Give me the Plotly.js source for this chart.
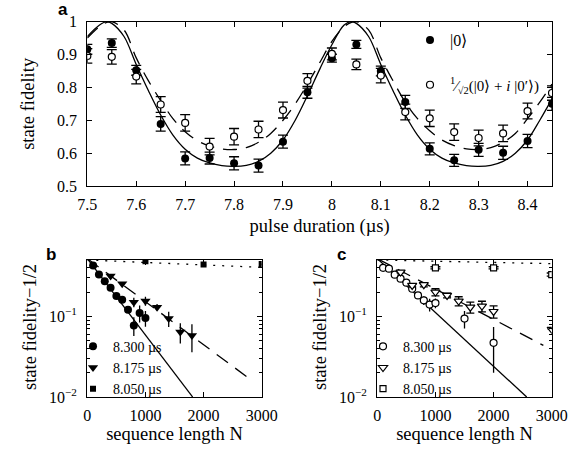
<!DOCTYPE html>
<html>
<head>
<meta charset="utf-8">
<script src="https://cdn.plot.ly/plotly-3.0.1.min.js"></script>
<style>html,body{margin:0;padding:0;background:#fff;}#chart{width:581px;height:471px;}</style>
</head>
<body>
<div id="chart"></div>
<script>
// ---------- Panel a: state fidelity vs pulse duration ----------
const pulse = [7.5,7.55,7.6,7.65,7.7,7.75,7.8,7.85,7.9,7.95,8.0,8.05,8.1,8.15,8.2,8.25,8.3,8.35,8.4,8.45];
const fidZero = [0.916,0.935,0.852,0.689,0.584,0.585,0.569,0.562,0.635,0.785,0.889,0.931,0.850,0.756,0.613,0.578,0.610,0.601,0.637,0.750];
const errZero = [0.015,0.013,0.015,0.022,0.020,0.018,0.020,0.020,0.020,0.018,0.012,0.012,0.015,0.020,0.018,0.018,0.020,0.020,0.020,0.020];
const fidSup = [0.896,0.893,0.833,0.748,0.692,0.620,0.650,0.672,0.731,0.820,0.902,0.870,0.836,0.725,0.706,0.664,0.646,0.660,0.728,0.783];
const errSup = [0.022,0.022,0.022,0.024,0.025,0.025,0.025,0.025,0.024,0.022,0.018,0.016,0.022,0.024,0.025,0.025,0.024,0.025,0.024,0.022];
const fitX = [7.5,7.525,7.54,7.55,7.575,7.6,7.625,7.65,7.675,7.7,7.725,7.75,7.775,7.8,7.825,7.85,7.875,7.9,7.925,7.95,7.975,8.0,8.025,8.04,8.05,8.075,8.1,8.125,8.15,8.175,8.2,8.225,8.25,8.275,8.3,8.325,8.35,8.375,8.4,8.425,8.45];
const fitZero = [0.955,0.99,1.0,0.995,0.955,0.87,0.79,0.716,0.655,0.612,0.585,0.57,0.562,0.56,0.563,0.575,0.6,0.64,0.7,0.775,0.855,0.93,0.99,1.0,0.995,0.955,0.87,0.79,0.716,0.655,0.612,0.585,0.57,0.562,0.56,0.563,0.575,0.6,0.64,0.7,0.765];
const fitSup = [0.95,0.985,0.998,1.0,0.975,0.89,0.82,0.76,0.705,0.665,0.638,0.622,0.613,0.611,0.617,0.633,0.66,0.7,0.75,0.81,0.875,0.94,0.985,0.998,1.0,0.975,0.89,0.82,0.755,0.705,0.668,0.64,0.623,0.613,0.611,0.617,0.633,0.66,0.705,0.755,0.81];

// ---------- Panel b: |0> ----------
const bN300 = [100,200,300,400,500,600,700,800,900,1000];
const bF300 = [0.428,0.331,0.273,0.227,0.179,0.161,0.121,0.0773,0.110,0.0953];
const bE300 = [0.006,0.006,0.006,0.006,0.007,0.008,0.010,0.020,0.026,0.021];
const bN175 = [400,600,800,1000,1200,1400,1600,1800];
const bF175 = [0.316,0.254,0.150,0.155,0.130,0.094,0.064,0.058];
const bE175 = [0.008,0.010,0.020,0.020,0.012,0.020,0.018,0.022];
const bN050 = [1000,2000,3000];
const bF050 = [0.484,0.440,0.445];
const bE050 = [0.005,0.005,0.005];
const bFitN300 = [0,1813], bFit300 = [0.52,0.01];
const bFitN175 = [0,2828], bFit175 = [0.52,0.0161];
const bFitN050 = [0,3000], bFit050 = [0.50,0.405];

// ---------- Panel c: superposition ----------
const cN300 = [100,200,300,400,500,600,700,800,900,1000,1500,2000];
const cF300 = [0.400,0.390,0.329,0.293,0.262,0.220,0.182,0.158,0.140,0.146,0.094,0.047];
const cE300 = [0.008,0.008,0.008,0.008,0.010,0.010,0.015,0.020,0.025,0.020,0.023,0.027];
const cN175 = [400,600,800,1000,1200,1400,1600,1800,2000,3000];
const cF175 = [0.354,0.242,0.247,0.200,0.182,0.155,0.130,0.134,0.115,0.069];
const cE175 = [0.008,0.010,0.015,0.020,0.012,0.020,0.020,0.020,0.020,0.0];
const cN050 = [1000,2000,3000];
const cF050 = [0.400,0.400,0.330];
const cE050 = [0.012,0.012,0.015];
const cFitN300 = [0,2570], cFit300 = [0.52,0.01];
const cFitN175 = [0,2856], cFit175 = [0.52,0.0437];
const cFitN050 = [0,3000], cFit050 = [0.50,0.45];

const legendLabels = ['8.300 µs','8.175 µs','8.050 µs'];
const yTitleBC = 'state fidelity−1/2';

const K = 'black';
const SERIF = 'Liberation Serif';

function fitLine(x, y, xa, ya, dash, shape){
  return {x:x, y:y, xaxis:xa, yaxis:ya, mode:'lines', showlegend:false, hoverinfo:'skip',
    line:{color:K, width:1.3, dash:dash, shape:shape||'linear'}};
}
function pts(x, y, e, xa, ya, sym, size, filled, capw, name, legend){
  return {x:x, y:y, xaxis:xa, yaxis:ya, mode:'markers', name:name, legend:legend,
    showlegend: !!name,
    marker:{symbol:sym, size:size, color: filled ? K : 'white', line:{color:K, width: filled ? 0 : 1.2}},
    error_y:{type:'data', array:e, visible:true, color:K, thickness:1.3, width:capw}};
}

const traces = [
  fitLine(fitX, fitSup, 'x', 'y', '14px,9px', 'spline'),
  fitLine(fitX, fitZero, 'x', 'y', 'solid', 'spline'),
  pts(pulse, fidZero, errZero, 'x', 'y', 'circle', 8, true, 5, '|0⟩', 'legend'),
  pts(pulse, fidSup, errSup, 'x', 'y', 'circle', 7, false, 5, '<sup>1</sup>⁄<sub>√2</sub>(|0⟩ + <i>i</i> |0′⟩)', 'legend2'),

  fitLine(bFitN050, bFit050, 'x2', 'y2', '2px,7px'),
  fitLine(bFitN175, bFit175, 'x2', 'y2', '14px,9px'),
  fitLine(bFitN300, bFit300, 'x2', 'y2', 'solid'),
  pts(bN300, bF300, bE300, 'x2', 'y2', 'circle', 8, true, 0, legendLabels[0], 'legend3'),
  pts(bN175, bF175, bE175, 'x2', 'y2', 'triangle-down', 9, true, 0, legendLabels[1], 'legend3'),
  pts(bN050, bF050, bE050, 'x2', 'y2', 'square', 6, true, 0, legendLabels[2], 'legend3'),

  fitLine(cFitN050, cFit050, 'x3', 'y3', '2px,7px'),
  fitLine(cFitN175, cFit175, 'x3', 'y3', '14px,9px'),
  fitLine(cFitN300, cFit300, 'x3', 'y3', 'solid'),
  pts(cN300, cF300, cE300, 'x3', 'y3', 'circle', 7, false, 0, legendLabels[0], 'legend4'),
  pts(cN175, cF175, cE175, 'x3', 'y3', 'triangle-down', 8, false, 4, legendLabels[1], 'legend4'),
  pts(cN050, cF050, cE050, 'x3', 'y3', 'square', 6, false, 5, legendLabels[2], 'legend4')
];

const axBase = {showline:true, linecolor:K, linewidth:1.2, mirror:'ticks', ticks:'inside', ticklen:5,
  tickcolor:K, tickwidth:1, showgrid:false, zeroline:false, tickfont:{family:SERIF, size:16, color:K}};
const titleFont = {family:SERIF, size:18.5, color:K};
const logMinor = {ticks:'inside', ticklen:3, tickcolor:K, tickmode:'array',
  tickvals:[0.02,0.03,0.04,0.05,0.06,0.07,0.08,0.09,0.2,0.3,0.4], showgrid:false};

const legBase = {bgcolor:'rgba(0,0,0,0)', borderwidth:0, xanchor:'left', yanchor:'middle', itemclick:false};

const layout = {
  width:581, height:471, margin:{l:0,r:0,t:0,b:0},
  paper_bgcolor:'white', plot_bgcolor:'white', showlegend:true,
  font:{family:SERIF, color:K},
  xaxis: Object.assign({}, axBase, {domain:[0.1503,0.9501], anchor:'y', range:[7.5,8.45], tick0:7.5, dtick:0.1,
    ticklabelstandoff:4, title:{text:'pulse duration (µs)', font:titleFont, standoff:6}}),
  yaxis: Object.assign({}, axBase, {domain:[0.6051,0.9539], anchor:'x', range:[0.5,1], tick0:0.5, dtick:0.1,
    ticklabelstandoff:6, title:{text:'state fidelity', font:titleFont, standoff:17}}),
  xaxis2: Object.assign({}, axBase, {domain:[0.1503,0.4504], anchor:'y2', range:[0,3000], dtick:1000,
    ticklabelstandoff:4, title:{text:'sequence length N', font:titleFont, standoff:0}}),
  yaxis2: Object.assign({}, axBase, {domain:[0.157,0.448], anchor:'x2', type:'log', range:[-2,-0.301],
    tickmode:'array', tickvals:[0.01,0.1], ticktext:['10<sup>−2</sup>','10<sup>−1</sup>'], minor:logMinor,
    ticklabelstandoff:6}),
  xaxis3: Object.assign({}, axBase, {domain:[0.6494,0.9496], anchor:'y3', range:[0,3000], dtick:1000,
    ticklabelstandoff:4, title:{text:'sequence length N', font:titleFont, standoff:0}}),
  yaxis3: Object.assign({}, axBase, {domain:[0.157,0.448], anchor:'x3', type:'log', range:[-2,-0.301],
    tickmode:'array', tickvals:[0.01,0.1], ticktext:['10<sup>−2</sup>','10<sup>−1</sup>'], minor:logMinor,
    ticklabelstandoff:6}),
  legend: Object.assign({}, legBase, {x:410/581, y:1-40/471, font:{family:SERIF, size:16, color:K}}),
  legend2: Object.assign({}, legBase, {x:410/581, y:1-85/471, font:{family:SERIF, size:15, color:K}}),
  legend3: Object.assign({}, legBase, {x:73/581, y:1-367.7/471, font:{family:SERIF, size:14, color:K}, tracegroupgap:0}),
  legend4: Object.assign({}, legBase, {x:363/581, y:1-367.7/471, font:{family:SERIF, size:14, color:K}, tracegroupgap:0}),
  annotations:[
    {text:yTitleBC, xref:'paper', yref:'paper', x:30/581, y:1-327/471, textangle:-90, xanchor:'center', yanchor:'middle',
      showarrow:false, font:titleFont},
    {text:yTitleBC, xref:'paper', yref:'paper', x:320/581, y:1-327/471, textangle:-90, xanchor:'center', yanchor:'middle',
      showarrow:false, font:titleFont},
    {text:'<b>a</b>', xref:'paper', yref:'paper', x:63/581, y:1-10/471, xanchor:'center', yanchor:'middle', showarrow:false,
      font:{family:'Liberation Sans', size:17, color:K}},
    {text:'<b>b</b>', xref:'paper', yref:'paper', x:50.5/581, y:1-254/471, xanchor:'center', yanchor:'middle', showarrow:false,
      font:{family:'Liberation Sans', size:17, color:K}},
    {text:'<b>c</b>', xref:'paper', yref:'paper', x:341/581, y:1-254/471, xanchor:'center', yanchor:'middle', showarrow:false,
      font:{family:'Liberation Sans', size:17, color:K}}
  ]
};

Plotly.newPlot('chart', traces, layout, {staticPlot:true, displayModeBar:false});
</script>
</body>
</html>
